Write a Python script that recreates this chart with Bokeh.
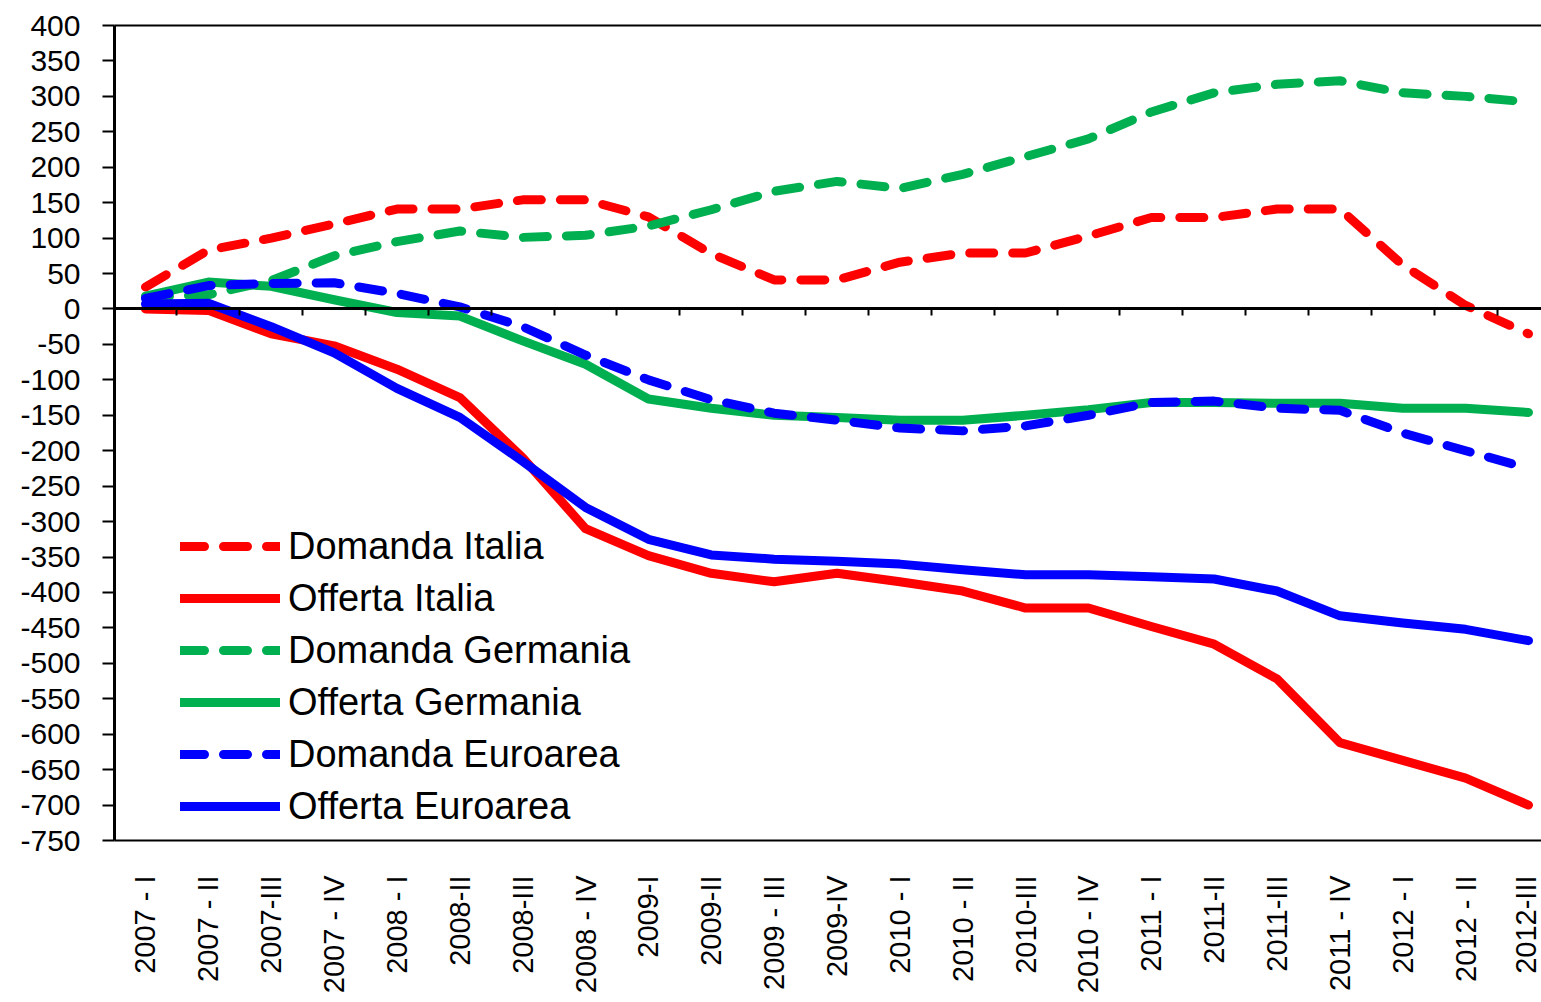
import math
from bokeh.plotting import figure
from bokeh.models import Range1d, LinearAxis, FixedTicker, Legend, LegendItem
from bokeh.embed import file_html
from bokeh.resources import INLINE

quarters = ["2007 - I", "2007 - II", "2007-III", "2007 - IV", "2008 - I", "2008-II",
            "2008-III", "2008 - IV", "2009-I", "2009-II", "2009 - III", "2009-IV",
            "2010 - I", "2010 - II", "2010-III", "2010 - IV", "2011 - I", "2011-II",
            "2011-III", "2011 - IV", "2012 - I", "2012 - II", "2012-III"]

domanda_italia = [31, 83, 100, 120, 141, 141, 154, 154, 130, 78, 41, 41, 66, 79, 79,
                  103, 129, 129, 141, 141, 62, 5, -35]
offerta_italia = [0, -2, -35, -52, -85, -125, -210, -310, -348, -373, -385, -373, -385,
                  -398, -422, -422, -448, -473, -522, -612, -637, -662, -700]
domanda_germania = [17, 20, 40, 75, 95, 110, 101, 104, 117, 140, 166, 180, 170, 190, 215,
                    240, 278, 305, 317, 322, 305, 300, 292]
offerta_germania = [18, 38, 32, 13, -5, -10, -45, -78, -127, -140, -150, -153, -157, -157,
                    -150, -142, -132, -132, -133, -133, -140, -140, -146]
domanda_euroarea = [15, 33, 36, 37, 22, 3, -25, -65, -100, -128, -147, -157, -168, -172,
                    -165, -150, -132, -130, -140, -143, -175, -200, -225]
offerta_euroarea = [7, 8, -25, -62, -112, -153, -215, -280, -325, -347, -353, -356, -360,
                    -368, -375, -375, -378, -381, -398, -433, -443, -452, -468]

y_ticks = list(range(-750, 401, 50))

series = [
    ("Domanda Italia", domanda_italia, "#FF0000", "24 19"),
    ("Offerta Italia", offerta_italia, "#FF0000", "solid"),
    ("Domanda Germania", domanda_germania, "#00B050", "24 19"),
    ("Offerta Germania", offerta_germania, "#00B050", "solid"),
    ("Domanda Euroarea", domanda_euroarea, "#0000FF", "24 19"),
    ("Offerta Euroarea", offerta_euroarea, "#0000FF", "solid"),
]

FONT = "Liberation Sans"

p = figure(width=1541, height=1000, x_range=Range1d(-0.493, 22.207),
           y_range=Range1d(-750, 400), output_backend="svg", toolbar_location=None,
           min_border_left=114, min_border_top=25, min_border_right=0,
           min_border_bottom=160)
p.xgrid.visible = False
p.ygrid.visible = False
p.outline_line_color = None
p.background_fill_color = "white"

# y axis
p.yaxis.ticker = FixedTicker(ticks=y_ticks)
p.yaxis.major_label_overrides = {t: str(t) for t in y_ticks}
p.yaxis.major_tick_out = 12
p.yaxis.major_tick_in = 0
p.yaxis.minor_tick_line_color = None
p.yaxis.axis_line_width = 3
p.yaxis.major_tick_line_width = 2
p.yaxis.major_label_standoff = 22
p.yaxis.major_label_text_font = FONT
p.yaxis.major_label_text_font_size = "30px"
p.yaxis.major_label_text_color = "black"

# x axis labels (bottom), its line is the bottom border of the plot area
xs = list(range(len(quarters)))
p.xaxis.ticker = FixedTicker(ticks=xs)
p.xaxis.major_label_overrides = {i: q for i, q in enumerate(quarters)}
p.xaxis.major_label_orientation = math.pi / 2
p.xaxis.axis_line_color = "black"
p.xaxis.axis_line_width = 2
p.xaxis.major_tick_line_color = None
p.xaxis.minor_tick_line_color = None
p.xaxis.major_label_standoff = 29
p.xaxis.major_label_text_font = FONT
p.xaxis.major_label_text_font_size = "29px"
p.xaxis.major_label_text_color = "black"

# top border of the plot area
top = LinearAxis(ticker=FixedTicker(ticks=[]), axis_line_width=2,
                 major_tick_line_color=None, minor_tick_line_color=None,
                 major_label_text_color=None)
p.add_layout(top, "above")

# zero line axis with category boundary ticks
zax = LinearAxis(fixed_location=0,
                 ticker=FixedTicker(ticks=[i + 0.5 for i in range(len(quarters) - 1)]),
                 major_tick_out=7, major_tick_in=0, axis_line_width=3,
                 major_tick_line_width=2, major_label_text_color=None,
                 minor_tick_line_color=None)
p.add_layout(zax, "below")

items = []
for name, vals, color, dash in series:
    r = p.line(xs, vals, line_color=color, line_width=9, line_dash=dash,
               line_cap="round", line_join="round")
    items.append(LegendItem(label=name, renderers=[r]))

legend = Legend(items=items, location=(66, 8), glyph_width=100, glyph_height=52,
                label_height=52, spacing=0, padding=0, margin=0, label_standoff=8,
                border_line_color=None, background_fill_alpha=0,
                label_text_font=FONT, label_text_font_size="38px",
                label_text_color="black")
p.add_layout(legend)

open("out.html", "w").write(file_html(p, INLINE))
